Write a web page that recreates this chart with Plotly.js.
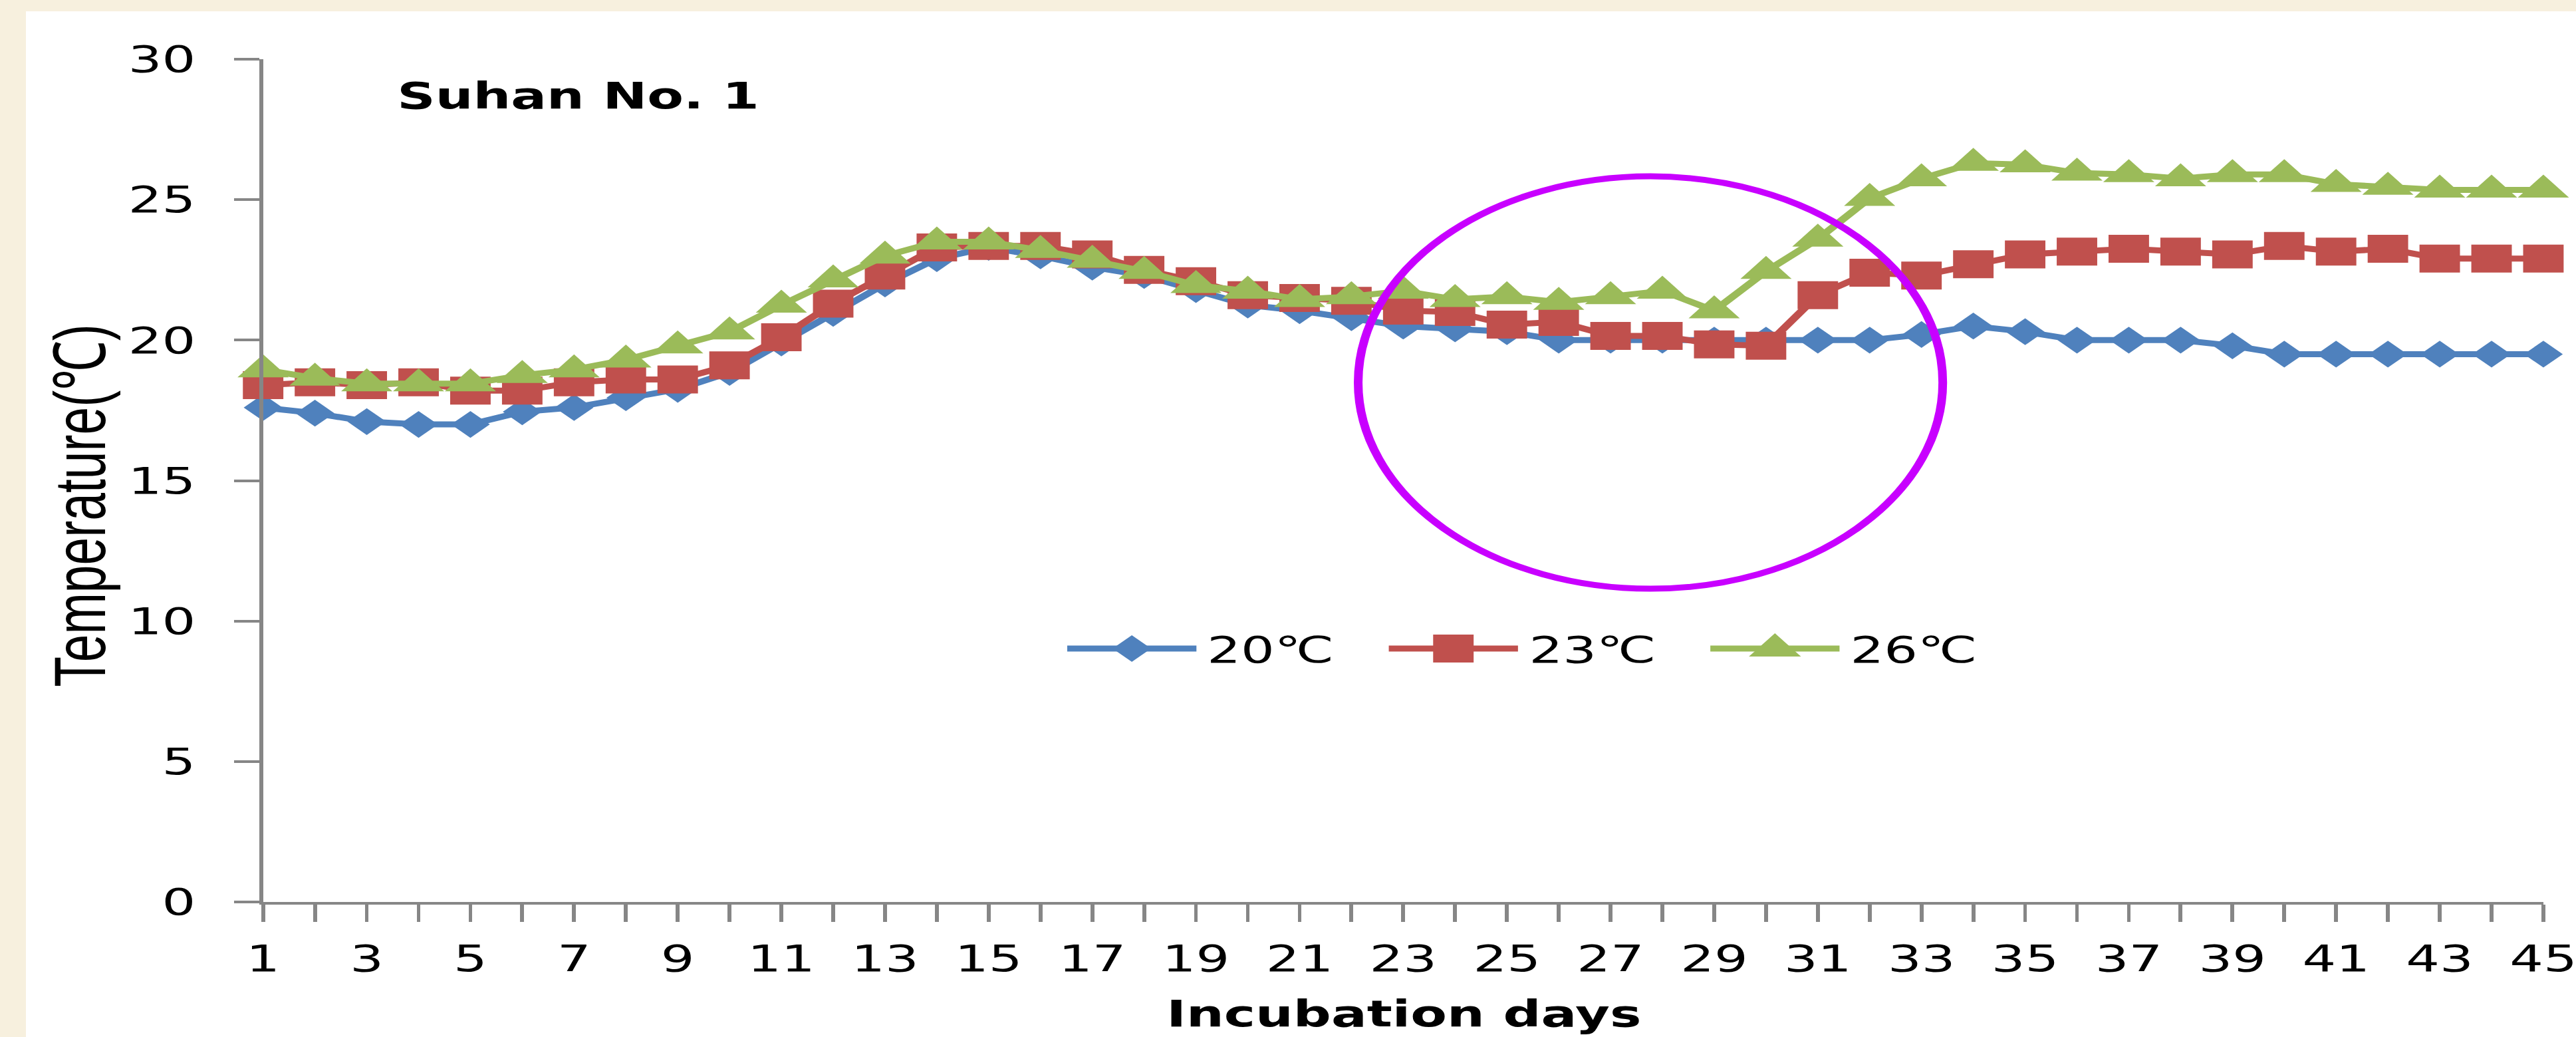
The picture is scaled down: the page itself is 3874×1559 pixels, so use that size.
<!DOCTYPE html>
<html>
<head>
<meta charset="utf-8">
<script src="https://cdn.plot.ly/plotly-3.0.1.min.js"></script>
<style>
html, body { margin: 0; padding: 0; background: #F7F0DE; width: 3874px; height: 1559px; overflow: hidden; }
#chart { position: absolute; left: 39px; top: 17px; width: 2645px; height: 1542px; transform: scaleX(1.45); transform-origin: 0 0; }
</style>
</head>
<body>
<div id="chart"></div>
<script>
// ---- data ----
const days = [1,2,3,4,5,6,7,8,9,10,11,12,13,14,15,16,17,18,19,20,21,22,23,24,25,26,27,28,29,30,31,32,33,34,35,36,37,38,39,40,41,42,43,44,45];
const xTickLabels = ['1','','3','','5','','7','','9','','11','','13','','15','','17','','19','','21','','23','','25','','27','','29','','31','','33','','35','','37','','39','','41','','43','','45'];
const yTicks = [0,5,10,15,20,25,30];
const seriesNames = ['20℃','23℃','26℃'];
const temp20 = [17.6,17.4,17.1,17.0,17.0,17.45,17.6,17.95,18.25,18.85,19.9,20.95,22.0,22.9,23.3,23.0,22.6,22.3,21.8,21.25,21.05,20.8,20.5,20.4,20.3,20.0,20.0,20.0,20.0,20.0,20.0,20.0,20.2,20.5,20.3,20.0,20.0,20.0,19.8,19.5,19.5,19.5,19.5,19.5,19.5];
const temp23 = [18.4,18.5,18.4,18.5,18.2,18.2,18.5,18.6,18.6,19.1,20.1,21.3,22.3,23.3,23.35,23.35,23.05,22.5,22.1,21.6,21.5,21.4,21.05,21.0,20.55,20.65,20.15,20.15,19.85,19.8,21.6,22.4,22.3,22.7,23.05,23.15,23.25,23.15,23.05,23.35,23.15,23.25,22.9,22.9,22.9];
const temp26 = [18.95,18.65,18.45,18.45,18.45,18.75,18.95,19.3,19.8,20.3,21.25,22.15,23.0,23.5,23.5,23.2,22.85,22.45,21.95,21.75,21.45,21.55,21.75,21.45,21.55,21.35,21.55,21.75,21.05,22.45,23.6,25.05,25.75,26.3,26.25,25.95,25.9,25.75,25.9,25.9,25.55,25.45,25.35,25.35,25.35];
const chartTitle = 'Suhan No. 1';
const xTitle = 'Incubation days';
const yTitle = 'Temperature(℃)';
// highlighted region (ellipse) in data units
const highlightX = [22.13, 33.41];
const highlightY = [11.15, 25.83];

// ---- styles ----
const colors = ['#4F81BD', '#C0504D', '#9BBB59'];
const symbols = ['diamond', 'square', 'triangle-up'];
const markerSizes = [31, 42, 46];
const legendPaths = [
  'M20,0L0,20L-20,0L0,-20Z',
  'M21,21H-21V-21H21Z',
  'M-27,-12H27L0,23Z'
];
const axisGray = '#868686';
const FONT = 'DejaVu Sans, Verdana, sans-serif';

// ---- layout geometry (px, unstretched div coords) ----
const W = 2645, H = 1542;
const M = { l: 246, r: 34, t: 72, b: 203 };
const PW = W - M.l - M.r, PH = H - M.t - M.b;
const px2paperX = px => (px - M.l) / PW;
const px2paperY = py => (M.t + PH - py) / PH;

const series = [temp20, temp23, temp26];
const traces = series.map((vals, i) => ({
  type: 'scatter',
  mode: 'lines+markers',
  name: seriesNames[i],
  x: days,
  y: vals,
  cliponaxis: false,
  line: { color: colors[i], width: 9 },
  marker: { symbol: symbols[i], size: markerSizes[i], color: colors[i], line: { width: 0 } }
}));

// custom legend (Plotly native legend caps symbol size)
const legendY = 958, legendX0 = 1080, legendStep = 333.5, legendLine = 134;
const shapes = [{
  type: 'circle', xref: 'x', yref: 'y',
  x0: highlightX[0], x1: highlightX[1], y0: highlightY[0], y1: highlightY[1],
  line: { color: '#C800FF', width: 9 }, layer: 'above'
}];
const annotations = [];
seriesNames.forEach((nm, i) => {
  const x0 = legendX0 + i * legendStep;
  shapes.push({
    type: 'line', xref: 'paper', yref: 'paper',
    x0: px2paperX(x0), x1: px2paperX(x0 + legendLine),
    y0: px2paperY(legendY), y1: px2paperY(legendY),
    line: { color: colors[i], width: 9 }, layer: 'above'
  });
  shapes.push({
    type: 'path', xref: 'paper', yref: 'paper',
    xsizemode: 'pixel', ysizemode: 'pixel',
    xanchor: px2paperX(x0 + legendLine / 2), yanchor: px2paperY(legendY),
    path: legendPaths[i],
    fillcolor: colors[i], line: { width: 0 }, layer: 'above'
  });
  annotations.push({
    xref: 'paper', yref: 'paper',
    x: px2paperX(x0 + legendLine + 9), y: px2paperY(legendY + 2),
    xanchor: 'left', yanchor: 'middle',
    text: nm, showarrow: false,
    font: { family: FONT, size: 55, color: '#000' }
  });
});
// y-axis title
annotations.push({
  xref: 'paper', yref: 'paper',
  x: px2paperX(56), y: px2paperY(743),
  xanchor: 'center', yanchor: 'middle',
  text: yTitle, textangle: -90, showarrow: false,
  font: { family: 'Liberation Sans Narrow, Liberation Sans, Arial, sans-serif', size: 75, color: '#000' }
});
// x-axis title, kept just inside the bottom edge
annotations.push({
  xref: 'paper', yref: 'paper',
  x: 0.5, y: px2paperY(1541),
  xanchor: 'center', yanchor: 'bottom',
  text: xTitle, showarrow: false,
  font: { family: FONT, size: 55, weight: 'bold', color: '#000' }
});

const layout = {
  width: W, height: H,
  margin: M,
  paper_bgcolor: '#FFFFFF',
  plot_bgcolor: '#FFFFFF',
  showlegend: false,
  font: { family: FONT, size: 55, color: '#000' },
  title: {
    text: chartTitle,
    xref: 'container', yref: 'container',
    x: 385 / W, xanchor: 'left',
    y: 1 - 127 / H, yanchor: 'middle',
    font: { family: FONT, size: 55, weight: 'bold', color: '#000' }
  },
  xaxis: {
    range: [1, 45],
    tickmode: 'array', tickvals: days, ticktext: xTickLabels,
    showgrid: false, zeroline: false,
    showline: true, linecolor: axisGray, linewidth: 4,
    ticks: 'outside', ticklen: 26, tickwidth: 4, tickcolor: axisGray,
    ticklabelstandoff: 8,
    ticklabeloverflow: 'allow',
    tickfont: { family: FONT, size: 55, color: '#000' },
    automargin: false
  },
  yaxis: {
    range: [0, 30],
    tickmode: 'array', tickvals: yTicks,
    showgrid: false, zeroline: false,
    showline: true, linecolor: axisGray, linewidth: 4,
    ticks: 'outside', ticklen: 26, tickwidth: 4, tickcolor: axisGray,
    ticklabelstandoff: 29,
    tickfont: { family: FONT, size: 55, color: '#000' },
    automargin: false
  },
  shapes: shapes,
  annotations: annotations
};

Plotly.newPlot('chart', traces, layout, { displayModeBar: false, staticPlot: true });
</script>
</body>
</html>
